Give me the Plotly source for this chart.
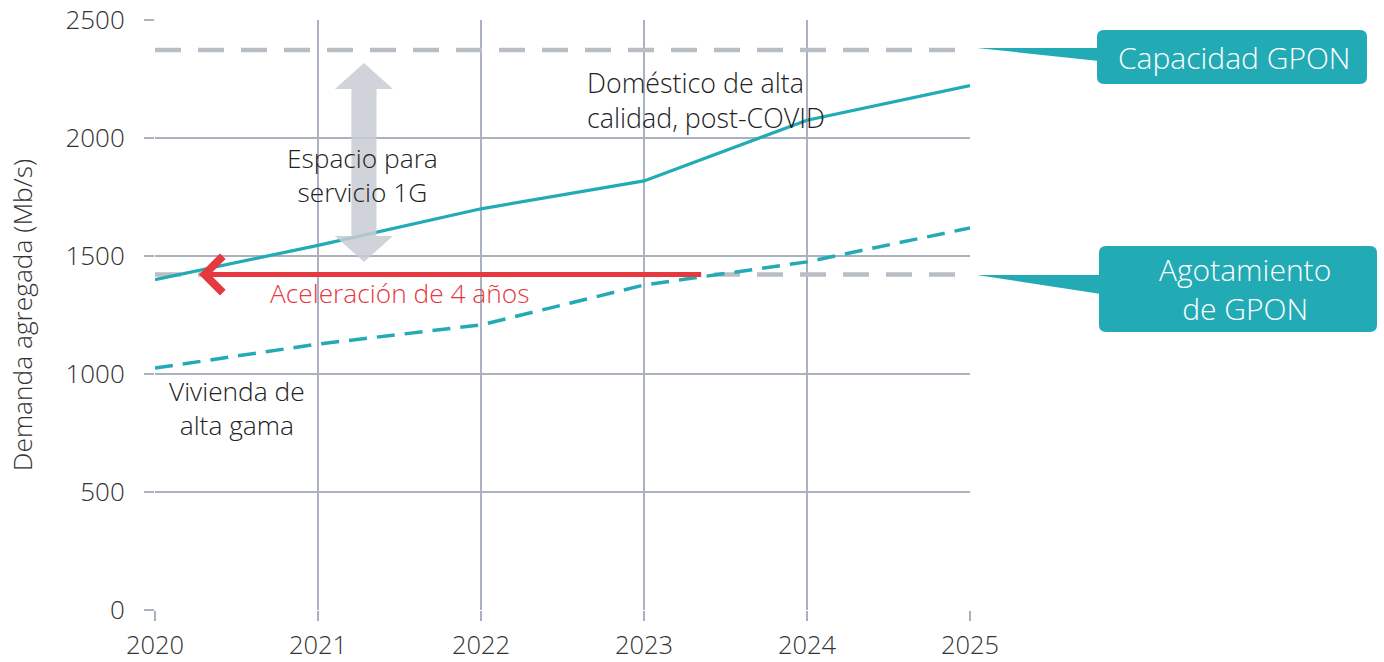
import plotly.graph_objects as go

# ---------------- data ----------------
years = [2020, 2021, 2022, 2023, 2024, 2025]
premium_post_covid = [1400, 1545, 1700, 1818, 2075, 2222]   # solid teal
high_end_home = [1025, 1127, 1208, 1377, 1475, 1619]       # dashed teal
gpon_capacity = 2373
gpon_exhaustion = 1422
accel_start, accel_end = 2023.36, 2020.27
y_ticks = [0, 500, 1000, 1500, 2000, 2500]
x_ticks = years

TEAL = "#23abb5"
GREY_DASH = "#b9bec5"
RED = "#e6383f"
GRID = "#aab2c2"
TXT = "#222222"
FONT = "Open Sans"
WT = 300

# target plot area in screen pixels
L, R, T, B = 155, 970, 20, 610
W, H = 1384, 662


def pp(x, y):
    return (x - L) / (R - L), (B - y) / (B - T)


def rounded_rect(x0, y0, x1, y1, r):
    def P(x, y):
        a, b = pp(x, y)
        return f"{a:.5f},{b:.5f}"
    return (f"M{P(x0 + r, y0)} L{P(x1 - r, y0)} Q{P(x1, y0)} {P(x1, y0 + r)} "
            f"L{P(x1, y1 - r)} Q{P(x1, y1)} {P(x1 - r, y1)} L{P(x0 + r, y1)} "
            f"Q{P(x0, y1)} {P(x0, y1 - r)} L{P(x0, y0 + r)} Q{P(x0, y0)} {P(x0 + r, y0)} Z")


def tri(pts):
    s = []
    for i, (x, y) in enumerate(pts):
        a, b = pp(x, y)
        s.append(("M" if i == 0 else "L") + f"{a:.5f},{b:.5f}")
    return " ".join(s) + " Z"


def F(size, color=TXT):
    return dict(family=FONT, size=size, color=color, weight=WT)


fig = go.Figure()

# grey dashed reference lines
for v in (gpon_capacity, gpon_exhaustion):
    fig.add_trace(go.Scatter(x=[years[0], years[-1]], y=[v, v], mode="lines",
                             line=dict(color=GREY_DASH, width=4.5, dash="26px,17px"),
                             hoverinfo="skip", showlegend=False))

fig.add_trace(go.Scatter(x=years, y=high_end_home, mode="lines",
                         line=dict(color=TEAL, width=3.5, dash="18px,10px"),
                         showlegend=False))
fig.add_trace(go.Scatter(x=years, y=premium_post_covid, mode="lines",
                         line=dict(color=TEAL, width=3.2),
                         showlegend=False))

shapes = []
# double grey arrow (space for 1G service)
cx = 2021.282
hw, sw = 0.178, 0.077
y_tip_top, y_base_top, y_base_bot, y_tip_bot = 2318, 2208, 1585, 1475
path = (f"M{cx},{y_tip_top} L{cx + hw},{y_base_top} L{cx + sw},{y_base_top} "
        f"L{cx + sw},{y_base_bot} L{cx + hw},{y_base_bot} L{cx},{y_tip_bot} "
        f"L{cx - hw},{y_base_bot} L{cx - sw},{y_base_bot} L{cx - sw},{y_base_top} "
        f"L{cx - hw},{y_base_top} Z")
shapes.append(dict(type="path", path=path, xref="x", yref="y",
                   fillcolor="rgba(200,205,211,0.85)", line=dict(width=0), layer="above"))

# callout boxes
shapes.append(dict(type="path", xref="paper", yref="paper",
                   path=tri([(977, 48), (1099, 48), (1099, 61)]),
                   fillcolor=TEAL, line=dict(width=0)))
shapes.append(dict(type="path", xref="paper", yref="paper",
                   path=rounded_rect(1097, 30, 1367, 84, 7),
                   fillcolor=TEAL, line=dict(width=0)))
shapes.append(dict(type="path", xref="paper", yref="paper",
                   path=tri([(977, 275), (1101, 275), (1101, 294)]),
                   fillcolor=TEAL, line=dict(width=0)))
shapes.append(dict(type="path", xref="paper", yref="paper",
                   path=rounded_rect(1099, 246, 1377, 332, 7),
                   fillcolor=TEAL, line=dict(width=0)))

annotations = [
    # red acceleration arrow
    dict(x=accel_end, y=gpon_exhaustion, ax=accel_start, ay=gpon_exhaustion,
         xref="x", yref="y", axref="x", ayref="y", text="", showarrow=True,
         arrowhead=4, arrowsize=1.4, arrowwidth=5, arrowcolor=RED),
    dict(x=2021.5, y=1343, xref="x", yref="y", text="Aceleración de 4 años",
         showarrow=False, font=F(26.3, RED)),
    dict(x=2021.27, y=1843, xref="x", yref="y", text="Espacio para<br>servicio 1G",
         showarrow=False, font=F(26.3)),
    dict(x=2022.64, y=2161, xref="x", yref="y", xanchor="left", align="left",
         text="Doméstico de alta<br>calidad, post-COVID",
         showarrow=False, font=F(26.8)),
    dict(x=2020.5, y=856, xref="x", yref="y", text="Vivienda de<br>alta gama",
         showarrow=False, font=F(26.3)),
    dict(x=pp(1234, 0)[0], y=pp(0, 57)[1], xref="paper", yref="paper",
         xanchor="center", yanchor="middle",
         text="Capacidad GPON", showarrow=False, font=F(30, "white")),
    dict(x=pp(1245, 0)[0], y=pp(0, 289)[1], xref="paper", yref="paper",
         xanchor="center", yanchor="middle",
         text="Agotamiento<br>de GPON", showarrow=False, font=F(30, "white")),
]

fig.update_layout(
    width=W, height=H,
    margin=dict(l=L, r=W - R, t=T, b=H - B, autoexpand=False),
    paper_bgcolor="white", plot_bgcolor="white",
    font=F(26, "#333333"),
    shapes=shapes, annotations=annotations,
    xaxis=dict(range=[2020, 2025], tickvals=x_ticks, ticktext=[str(v) for v in x_ticks],
               showgrid=True, gridcolor=GRID, gridwidth=1.5,
               ticks="outside", ticklen=10, tickcolor=GRID, tickwidth=1.5,
               zeroline=False, showline=False, ticklabelstandoff=2, automargin=False,
               ticklabeloverflow="allow", tickfont=F(25.5, "#333333")),
    yaxis=dict(range=[0, 2500], tickvals=y_ticks,
               showgrid=True, gridcolor=GRID, gridwidth=1.5,
               ticks="outside", ticklen=10, tickcolor=GRID, tickwidth=1.5,
               zeroline=False, showline=False, ticklabelstandoff=14, automargin=False,
               ticklabeloverflow="allow", tickfont=F(26, "#333333"),
               title=dict(text="Demanda agregada (Mb/s)", standoff=25,
                          font=F(26.3, "#333333"))),
)

fig.write_html(
    "out.html",
    config={"displayModeBar": False},
    post_script="document.body.style.margin='0';document.body.style.overflow='hidden';",
)
